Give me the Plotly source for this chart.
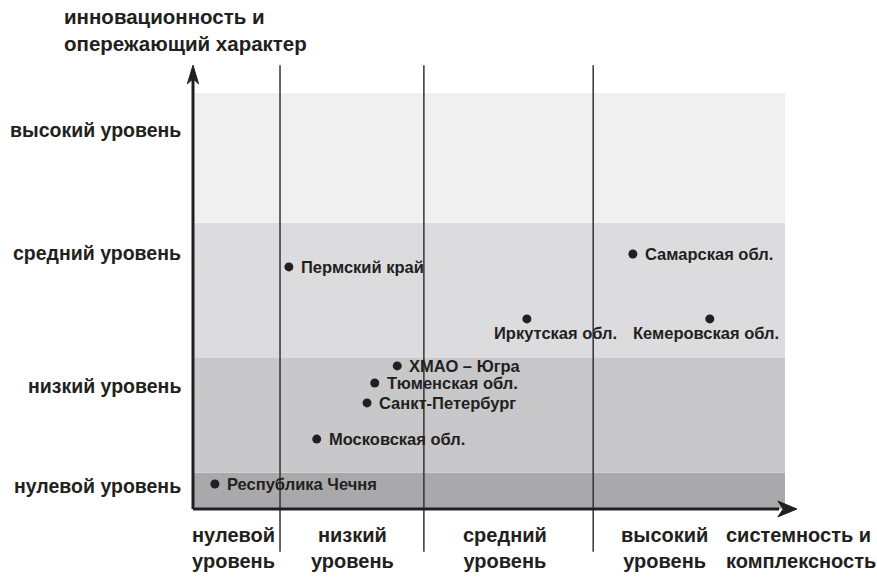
import plotly.graph_objects as go

# ---- data ----
regions = ["Пермский край", "Самарская обл.", "Иркутская обл.", "Кемеровская обл.",
           "ХМАО – Югра", "Тюменская обл.", "Санкт-Петербург", "Московская обл.",
           "Республика Чечня"]
# x: системность и комплексность (0-100), y: инновационность (0-100)
x_vals = [16.2, 74.3, 56.4, 87.3, 34.5, 30.7, 29.4, 20.9, 3.7]
y_vals = [58.2, 61.3, 45.7, 45.7, 34.4, 30.3, 25.5, 16.8, 6.0]

x_level_bounds = [0, 14.7, 39.0, 67.6, 100]
y_level_bounds = [0, 8.7, 36.3, 68.8, 100]
x_level_labels = ["нулевой<br>уровень", "низкий<br>уровень", "средний<br>уровень", "высокий<br>уровень"]
x_label_pos = [6.8, 26.9, 52.7, 79.7]
y_level_labels = ["нулевой уровень", "низкий уровень", "средний уровень", "высокий уровень"]
y_label_pos = [5.5, 29.6, 61.5, 91.1]
band_colors = ["#a9a9ab", "#c8c8ca", "#dcdcde", "#f0f0f1"]

x_title = "системность и<br>комплексность"
y_title = "инновационность и<br>опережающий характер"

# label placement style: (xanchor, xshift px, yshift px)
label_style = [("left", 10, 0), ("left", 10, 0), ("center", 29, -14), ("center", -4, -14),
               ("left", 10, 0), ("left", 10, 0), ("left", 10, 0), ("left", 10, 0), ("left", 10, 0)]

TXT = "#231f20"
FONT = "Liberation Sans, Arial, sans-serif"

fig = go.Figure()

shapes = []
for i, c in enumerate(band_colors):
    shapes.append(dict(type="rect", xref="x", yref="y", x0=0, x1=100,
                       y0=y_level_bounds[i], y1=y_level_bounds[i + 1],
                       fillcolor=c, line=dict(width=0), layer="below"))
# vertical separators
for xb in x_level_bounds[1:-1]:
    shapes.append(dict(type="line", xref="x", yref="y", x0=xb, x1=xb, y0=-10.3, y1=106.7,
                       line=dict(color="#333333", width=1.5)))
# axes
shapes.append(dict(type="line", xref="x", yref="y", x0=0, x1=0, y0=0, y1=104.5,
                   line=dict(color=TXT, width=3)))
shapes.append(dict(type="line", xref="x", yref="y", x0=0, x1=99, y0=0, y1=0,
                   line=dict(color=TXT, width=3)))
# arrowheads
shapes.append(dict(type="path", xref="x", yref="y",
                   path="M 102.0,0 L 98.8,1.9 L 99.7,0 L 98.8,-1.9 Z",
                   fillcolor=TXT, line=dict(color=TXT, width=1)))
shapes.append(dict(type="path", xref="x", yref="y",
                   path="M 0,106.7 L -0.95,102.2 L 0,103.4 L 0.95,102.2 Z",
                   fillcolor=TXT, line=dict(color=TXT, width=1)))

fig.add_trace(go.Scatter(
    x=x_vals, y=y_vals, mode="markers", text=regions,
    marker=dict(size=9, color=TXT),
    hoverinfo="text", showlegend=False, cliponaxis=False))

ann = []
for r, xv, yv, (xa, xs, ys) in zip(regions, x_vals, y_vals, label_style):
    ann.append(dict(x=xv, y=yv, xref="x", yref="y", text=r, showarrow=False,
                    xanchor=xa, yanchor="middle", xshift=xs, yshift=ys,
                    font=dict(family=FONT, size=16.5, color=TXT, weight="bold")))
for lab, yp in zip(y_level_labels, y_label_pos):
    ann.append(dict(x=-1.7, y=yp, xref="x", yref="y", text=lab, showarrow=False,
                    xanchor="right", yanchor="middle",
                    font=dict(family=FONT, size=19.5, color=TXT, weight="bold")))
for lab, xp in zip(x_level_labels, x_label_pos):
    ann.append(dict(x=xp, y=-9.4, xref="x", yref="y", text=lab, showarrow=False,
                    xanchor="center", yanchor="middle",
                    font=dict(family=FONT, size=20, color=TXT, weight="bold")))
ann.append(dict(x=89.7, y=-9.4, xref="x", yref="y", text=x_title, showarrow=False,
                xanchor="left", yanchor="middle", align="left",
                font=dict(family=FONT, size=20, color=TXT, weight="bold")))
ann.append(dict(x=-22.1, y=115.1, xref="x", yref="y", text=y_title, showarrow=False,
                xanchor="left", yanchor="middle", align="left",
                font=dict(family=FONT, size=20.5, color=TXT, weight="bold")))

fig.update_layout(
    width=877, height=577, margin=dict(l=0, r=0, t=0, b=0),
    paper_bgcolor="white", plot_bgcolor="white",
    xaxis=dict(range=[-32.6, 115.54], visible=False, fixedrange=True),
    yaxis=dict(range=[-16.35, 122.36], visible=False, fixedrange=True),
    shapes=shapes, annotations=ann)

fig.write_html("out.html", config={"displayModeBar": False},
               post_script="document.body.style.margin='0';document.body.style.overflow='hidden';")
